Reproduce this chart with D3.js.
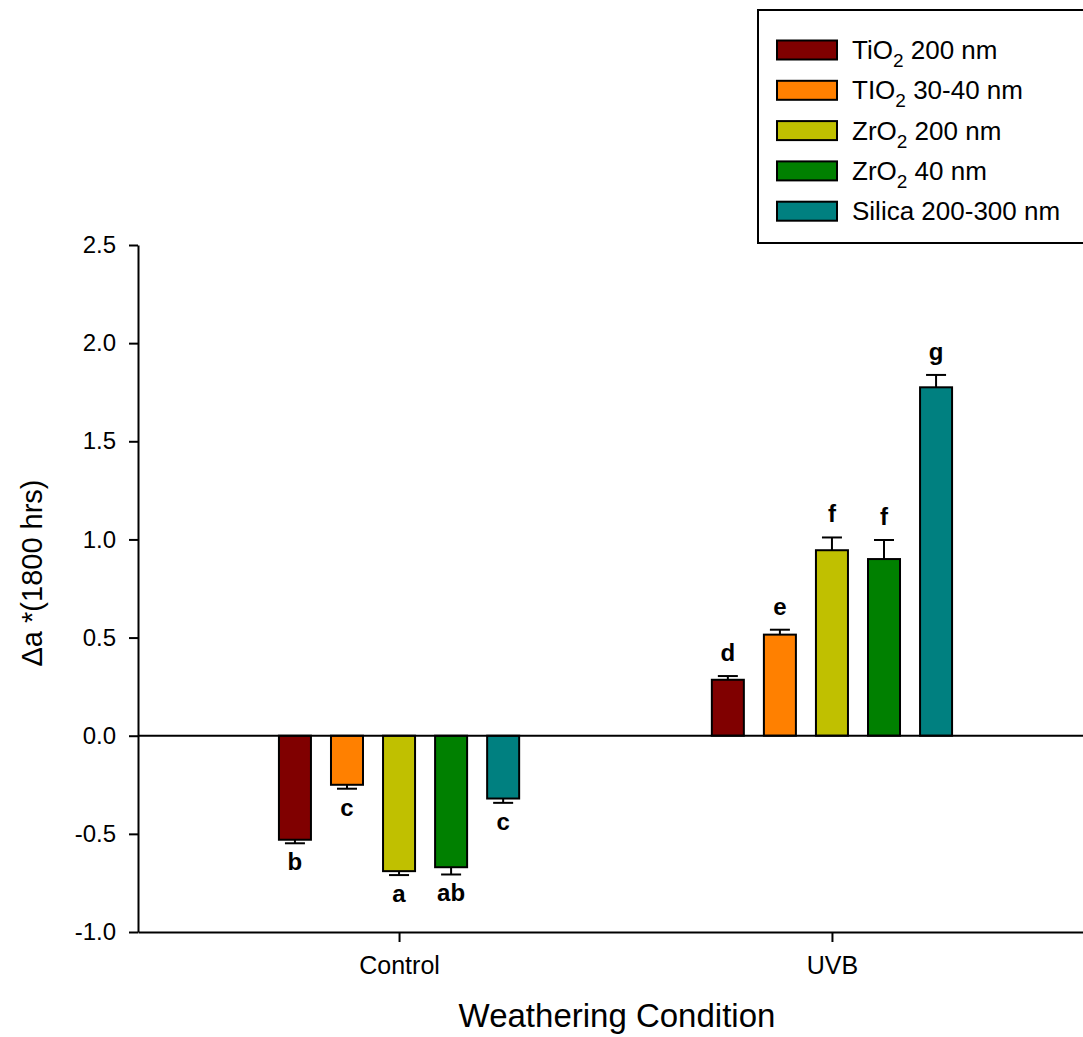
<!doctype html>
<html lang="en">
    <head>
        <meta charset="utf-8">
        <title>Delta a* bar chart</title>
        <script src="https://cdn.jsdelivr.net/npm/d3@7"></script>
        <style>
            body { margin: 0; background: #fff; }
            text { font-family: "Liberation Sans", Arial, sans-serif; fill: #000; }
        </style>
    </head>
    <body>
        <script>
            var groups = ["Control", "UVB"];
            var series = ["TiO2 200 nm", "TIO2 30-40 nm", "ZrO2 200 nm", "ZrO2 40 nm", "Silica 200-300 nm"];
            var colors = ["#800000", "#ff8000", "#c0c000", "#008000", "#008080"];
            var controlMeans = [-0.53, -0.25, -0.69, -0.67, -0.32];
            var controlErr = [0.018, 0.02, 0.02, 0.037, 0.022];
            var uvbMeans = [0.285, 0.515, 0.945, 0.90, 1.775];
            var uvbErr = [0.019, 0.025, 0.065, 0.097, 0.063];
            var controlLetters = ["b", "c", "a", "ab", "c"];
            var uvbLetters = ["d", "e", "f", "f", "g"];
            var yTicks = [-1.0, -0.5, 0.0, 0.5, 1.0, 1.5, 2.0, 2.5];

            var svgW = 1083, svgH = 1037;
            var margin = {top: 245, bottom: 105, left: 138};

            // rows for drawing
            var rows = [];
            series.forEach(function(s, i) {
                rows.push({group: "Control", s: s, i: i, v: controlMeans[i], e: controlErr[i], letter: controlLetters[i]});
                rows.push({group: "UVB", s: s, i: i, v: uvbMeans[i], e: uvbErr[i], letter: uvbLetters[i]});
            });

            var yScale = d3.scaleLinear()
                           .domain([-1, 2.5])
                           .range([svgH - margin.bottom, margin.top]);

            var x0 = d3.scalePoint()
                       .domain(groups)
                       .range([margin.left, 1093])
                       .padding(0.603);

            var x1 = d3.scaleBand()
                       .domain(series)
                       .range([-130, 130])
                       .paddingInner(0.385)
                       .paddingOuter(0.19);

            var svg = d3.select("body")
                        .append("svg")
                        .attr("width", svgW)
                        .attr("height", svgH);

            // legend
            var legend = svg.append("g");
            legend.append("rect")
                  .attr("x", 758).attr("y", 10)
                  .attr("width", 340).attr("height", 233)
                  .attr("fill", "#fff")
                  .attr("stroke", "#000")
                  .attr("stroke-width", 2);

            var items = legend.selectAll("g.item")
                              .data(series)
                              .enter()
                              .append("g")
                              .attr("class", "item")
                              .attr("transform", (d, i) => "translate(0," + (50 + i * 40.3) + ")");

            items.append("rect")
                 .attr("x", 777).attr("y", -9.5)
                 .attr("width", 60).attr("height", 19)
                 .attr("fill", (d, i) => colors[i])
                 .attr("stroke", "#000")
                 .attr("stroke-width", 2);

            items.each(function(d) {
                var t = d3.select(this).append("text")
                          .attr("x", 852).attr("y", 9)
                          .attr("font-size", "26px");
                var parts = d.split("O2");
                if (parts.length > 1) {
                    t.append("tspan").text(parts[0] + "O");
                    t.append("tspan").text("2").attr("font-size", "19px").attr("dy", 8);
                    t.append("tspan").text(parts[1]).attr("dy", -8);
                } else {
                    t.text(d);
                }
            });

            // bars
            var bx = d => x0(d.group) + x1(d.s);

            svg.selectAll("rect.bar")
               .data(rows)
               .enter()
               .append("rect")
               .attr("class", "bar")
               .attr("x", bx)
               .attr("y", d => yScale(Math.max(0, d.v)))
               .attr("width", x1.bandwidth())
               .attr("height", d => Math.abs(yScale(d.v) - yScale(0)))
               .attr("fill", d => colors[d.i])
               .attr("stroke", "#000")
               .attr("stroke-width", 2);

            // error bars (one-sided, away from zero)
            var errEnd = d => d.v >= 0 ? d.v + d.e : d.v - d.e;
            var cx = d => bx(d) + x1.bandwidth() / 2;

            svg.selectAll("line.err")
               .data(rows)
               .enter()
               .append("line")
               .attr("x1", cx).attr("x2", cx)
               .attr("y1", d => yScale(d.v))
               .attr("y2", d => yScale(errEnd(d)))
               .attr("stroke", "#000")
               .attr("stroke-width", 2);

            svg.selectAll("line.cap")
               .data(rows)
               .enter()
               .append("line")
               .attr("x1", d => cx(d) - 10).attr("x2", d => cx(d) + 10)
               .attr("y1", d => yScale(errEnd(d)))
               .attr("y2", d => yScale(errEnd(d)))
               .attr("stroke", "#000")
               .attr("stroke-width", 2);

            svg.selectAll("text.letter")
               .data(rows)
               .enter()
               .append("text")
               .attr("x", cx)
               .attr("y", d => yScale(errEnd(d)) + (d.v >= 0 ? -15 : 27))
               .attr("text-anchor", "middle")
               .attr("font-size", "24px")
               .attr("font-weight", "bold")
               .text(d => d.letter);

            // zero line
            svg.append("line")
               .attr("x1", margin.left).attr("x2", svgW)
               .attr("y1", yScale(0)).attr("y2", yScale(0))
               .attr("stroke", "#000")
               .attr("stroke-width", 2);

            // axes
            var yAxis = d3.axisLeft(yScale)
                          .tickValues(yTicks)
                          .tickSize(9)
                          .tickSizeOuter(0)
                          .tickPadding(13)
                          .tickFormat(d => d.toFixed(1));

            var gy = svg.append("g")
                        .attr("transform", "translate(" + margin.left + ",0)")
                        .call(yAxis);
            gy.selectAll("text").attr("font-size", "24px").attr("font-family", null);

            var xAxis = d3.axisBottom(x0)
                          .tickSize(10)
                          .tickSizeOuter(0)
                          .tickPadding(14);

            var gx = svg.append("g")
                        .attr("transform", "translate(0," + yScale(-1) + ")")
                        .call(xAxis);
            gx.selectAll("text").attr("font-size", "25px").attr("font-family", null);

            svg.selectAll(".domain, .tick line")
               .attr("stroke", "#000")
               .attr("stroke-width", 2);

            // axis titles
            svg.append("text")
               .attr("x", 617).attr("y", 1027)
               .attr("text-anchor", "middle")
               .attr("font-size", "33px")
               .text("Weathering Condition");

            svg.append("text")
               .attr("transform", "translate(42,573) rotate(-90)")
               .attr("text-anchor", "middle")
               .attr("font-size", "29px")
               .text("\u0394a *(1800 hrs)");
        </script>
    </body>
</html>
